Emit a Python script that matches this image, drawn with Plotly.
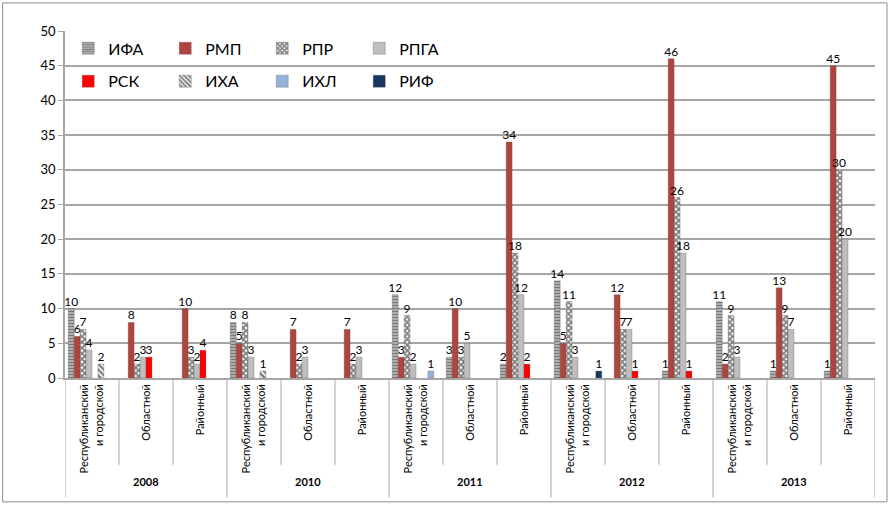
import plotly.graph_objects as go

years = ["2008", "2010", "2011", "2012", "2013"]
levels = ["Республиканский<br>и городской", "Областной", "Районный"]
level_labels = levels * len(years)

# 15 categories: for each year Респ., Обл., Район.
ifa  = [10, None, None,   8, None, None,   12, 3, 2,    14, None, 1,   11, 1, 1]
rmp  = [6, 8, 10,         5, 7, 7,         3, 10, 34,   5, 12, 46,     2, 13, 45]
rpr  = [7, 2, 3,          8, 2, 2,         9, 3, 18,    11, 7, 26,     9, 9, 30]
rpga = [4, 3, 2,          3, 3, 3,         2, 5, 12,    3, 7, 18,      3, 7, 20]
rsk  = [None, 3, 4,       None, None, None, None, None, 2, None, 1, 1,  None, None, None]
iha  = [2, None, None,    1, None, None,   None, None, None, None, None, None, None, None, None]
ihl  = [None, None, None, None, None, None, 1, None, None, None, None, None, None, None, None]
rif  = [None, None, None, None, None, None, None, None, None, 1, None, None, None, None, None]

xs = list(range(len(level_labels)))

series = [
    ("ИФА", ifa, dict(color="white", pattern=dict(shape="-", fgcolor="#303030", bgcolor="#c0c0c0", size=3, solidity=0.5)), "legend"),
    ("РМП", rmp, dict(color="#B0453F"), "legend"),
    ("РПР", rpr, dict(color="white", pattern=dict(shape="x", fgcolor="#000000", bgcolor="white", size=4, solidity=0.7)), "legend"),
    ("РПГА", rpga, dict(color="#BEBEBE"), "legend"),
    ("РСК", rsk, dict(color="#FF0000"), "legend2"),
    ("ИХА", iha, dict(color="white", pattern=dict(shape="\\", fgcolor="#000000", bgcolor="white", size=4, solidity=0.6)), "legend2"),
    ("ИХЛ", ihl, dict(color="#95B3D7"), "legend2"),
    ("РИФ", rif, dict(color="#17375E"), "legend2"),
]

fig = go.Figure()
for name, vals, marker, lg in series:
    m = dict(marker)
    m["line"] = dict(color="rgba(80,80,80,0.6)", width=0.5)
    fig.add_trace(go.Bar(
        x=xs, y=vals, name=name, marker=m, legend=lg,
        text=[("" if v is None else str(v)) for v in vals],
        textposition="outside", constraintext="none", cliponaxis=False,
        textfont=dict(size=12, color="black", family="Lato"),
    ))

fig.update_layout(
    width=890, height=505,
    margin=dict(l=65, r=15, t=31, b=127, autoexpand=False),
    paper_bgcolor="white", plot_bgcolor="white",
    barmode="group", bargap=0.12, bargroupgap=0,
    font=dict(family="Lato", color="black"),
    legend=dict(orientation="h", x=0.004, y=0.95, xanchor="left", yanchor="middle",
                entrywidth=52, bgcolor="rgba(0,0,0,0)", font=dict(size=16), traceorder="normal"),
    legend2=dict(orientation="h", x=0.004, y=0.855, xanchor="left", yanchor="middle",
                 entrywidth=52, bgcolor="rgba(0,0,0,0)", font=dict(size=16), traceorder="normal"),
)
fig.update_yaxes(range=[0, 50], dtick=5, showgrid=True, gridcolor="#A6A6A6", gridwidth=1.5,
                 showline=True, linecolor="#A6A6A6", linewidth=1.5, ticks="outside", ticklen=5,
                 tickcolor="#A6A6A6", tickfont=dict(size=13), zeroline=False, automargin=False)
fig.update_xaxes(range=[-0.5, len(xs) - 0.5], tickmode="array", tickvals=xs, ticktext=level_labels,
                 tickangle=-90, tickfont=dict(size=11, family="Lato"), showgrid=False,
                 showline=True, linecolor="#A6A6A6", linewidth=1.5, ticks="", automargin=False)

# category dividers below the axis
for i in range(len(xs) + 1):
    b = i - 0.5
    is_year = (i % 3 == 0)
    fig.add_shape(type="line", xref="x", yref="paper", x0=b, x1=b,
                  y0=-0.005, y1=(-0.345 if is_year else -0.25),
                  line=dict(color="#A6A6A6", width=1))
for k, yr in enumerate(years):
    fig.add_annotation(x=3 * k + 1, y=-0.297, xref="x", yref="paper", text="<b>" + yr + "</b>",
                       showarrow=False, font=dict(size=11), yanchor="middle")

# outer border
fig.add_shape(type="rect", xref="paper", yref="paper", x0=-0.077, x1=1.0148, y0=-0.357, y1=1.081,
              line=dict(color="#8C8C8C", width=1))

fig.write_html("out.html", config={"displayModeBar": False},
               post_script="document.body.style.margin='0';document.body.style.overflow='hidden';")
